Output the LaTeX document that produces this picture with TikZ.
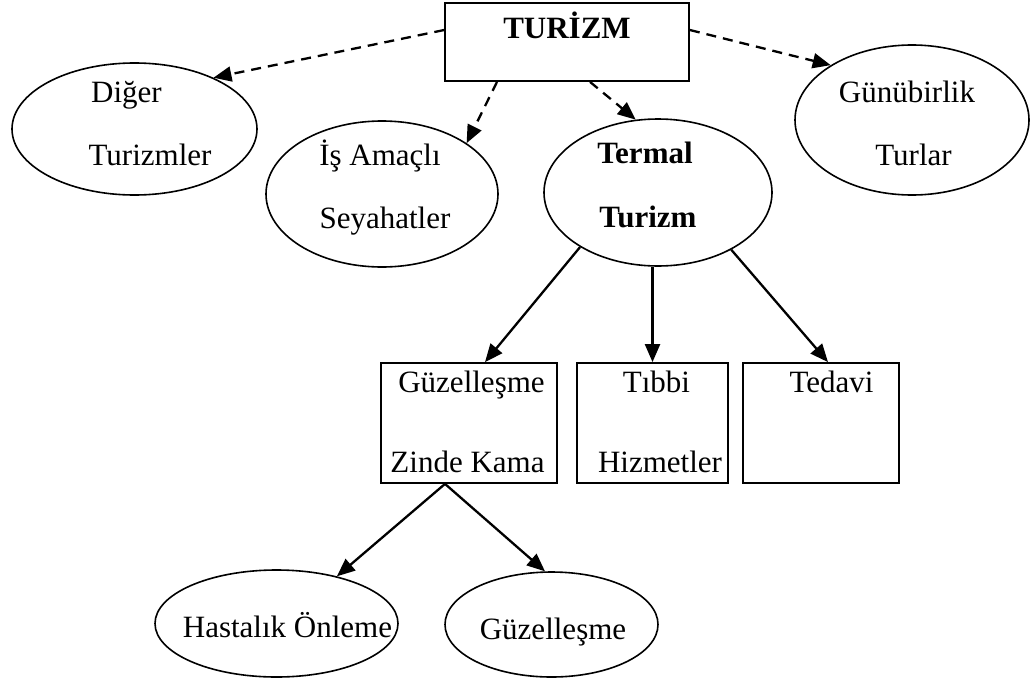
\documentclass[tikz,border=0pt]{standalone}
\usepackage{fontspec}
\setmainfont{Liberation Serif}
\usetikzlibrary{arrows.meta,calc,shapes.geometric}
\begin{document}
\begin{tikzpicture}[x=1pt,y=-1pt,
  lbl/.style={anchor=base,inner sep=0pt,font=\fontsize{31}{37}\selectfont},
  blbl/.style={anchor=base,inner sep=0pt,font=\fontsize{31}{37}\selectfont\bfseries},
  oval/.style={draw,ellipse,line width=1.6pt,inner sep=0pt},
  box/.style={draw,rectangle,line width=1.8pt,inner sep=0pt},
  darr/.style={line width=2.3pt,dash pattern=on 10pt off 7pt,-{Triangle[length=18pt,width=15pt]}},
  sarr/.style={line width=2.3pt,-{Triangle[length=18pt,width=15pt]}}]
\useasboundingbox (0,0) rectangle (1035,680);
% shapes
\node[box,minimum width=244pt,minimum height=78pt] (tur) at (567,42) {};
\node[oval,minimum width=245pt,minimum height=132pt] (dig) at (134.5,129) {};
\node[oval,minimum width=232pt,minimum height=146pt] (is) at (382,194) {};
\node[oval,minimum width=228pt,minimum height=147pt] (ter) at (658,192.5) {};
\node[oval,minimum width=234pt,minimum height=150pt] (gun) at (912,120) {};
\node[box,minimum width=176pt,minimum height=120pt] (guz) at (469,423) {};
\node[box,minimum width=151pt,minimum height=120pt] (tib) at (652.5,423) {};
\node[box,minimum width=156pt,minimum height=120pt] (ted) at (821,423) {};
\node[oval,minimum width=243pt,minimum height=107pt] (has) at (276.5,623.5) {};
\node[oval,minimum width=213pt,minimum height=105pt] (gzl) at (551.5,624.5) {};
% texts
\node[blbl] (turt) at (567,38) {TURİZM};
\node[lbl] (dig1) at (126.5,102) {Diğer};
\node[lbl] (dig2) at (150,165) {Turizmler};
\node[lbl] (is1) at (380,165) {İş Amaçlı};
\node[lbl] (is2) at (385,228) {Seyahatler};
\node[blbl] (ter1) at (645,163) {Termal};
\node[blbl] (ter2) at (648,227) {Turizm};
\node[lbl] (gun1) at (907,102) {Günübirlik};
\node[lbl] (gun2) at (913.5,165) {Turlar};
\node[lbl] (guz1) at (471.5,392) {Güzelleşme};
\node[lbl] (guz2) at (467.5,472) {Zinde Kama};
\node[lbl] (tib1) at (656.5,392) {Tıbbi};
\node[lbl] (tib2) at (660,472) {Hizmetler};
\node[lbl] (ted1) at (831.5,392) {Tedavi};
\node[lbl] (has1) at (287.5,637) {Hastalık Önleme};
\node[lbl] (gzl1) at (553,639) {Güzelleşme};
% connectors
\draw[darr] ($(tur.north west)!0.35!(tur.south west)$) -- (dig.33);
\draw[darr] ([xshift=-70pt]tur.south) -- (is.31);
\draw[darr] ([xshift=23pt]tur.south) -- (ter.107);
\draw[darr] ($(tur.north east)!0.35!(tur.south east)$) -- (gun.146);
\draw[sarr] (ter.215) -- ([xshift=16pt]guz.north);
\draw[sarr] (tib.north |- ter.south) -- (tib.north);
\draw[sarr] (ter.-38) -- ([xshift=7pt]ted.north);
\draw[sarr] ([xshift=-24pt]guz.south) -- (has.38);
\draw[sarr] ([xshift=-24pt]guz.south) -- (gzl.97);
\end{tikzpicture}
\end{document}
